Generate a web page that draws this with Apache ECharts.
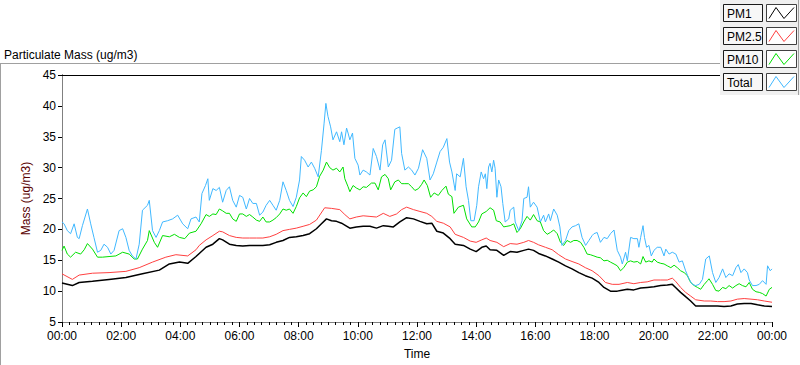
<!DOCTYPE html>
<html><head><meta charset="utf-8">
<script src="https://cdn.jsdelivr.net/npm/echarts@6/dist/echarts.min.js"></script>
<style>html,body{margin:0;padding:0;background:#fff}#c{width:800px;height:365px}</style>
</head><body><div id="c"></div>
<script>
const seriesNames = ['PM1', 'PM2.5', 'PM10', 'Total'];
const seriesColors = ['#000000', '#ff4040', '#00e000', '#40b8ff'];
const xTickLabels = ['00:00','02:00','04:00','06:00','08:00','10:00','12:00','14:00','16:00','18:00','20:00','22:00','00:00'];
const chartTitle = 'Particulate Mass (ug/m3)';
const yName = 'Mass (ug/m3)';
const xName = 'Time';

// [hour of day, ug/m3]
const pm1 = [[0,11.3],[0.35,10.9],[0.58,11.4],[1.03,11.6],[1.59,11.9],[2.16,12.2],[2.72,12.8],[3.29,13.4],[3.63,14.4],[3.97,14.7],[4.25,14.5],[4.53,15.6],[4.64,16.1],[4.87,17.1],[5.1,17.6],[5.32,18.5],[5.43,18.3],[5.66,17.6],[5.89,17.4],[6.11,17.3],[6.34,17.4],[6.57,17.4],[6.79,17.4],[7.02,17.5],[7.24,17.9],[7.47,18.2],[7.69,18.7],[7.92,18.8],[8.15,19.0],[8.37,19.3],[8.6,20.1],[8.77,20.9],[8.94,21.7],[9.11,21.4],[9.28,21.3],[9.45,21.0],[9.56,20.7],[9.73,20.2],[9.95,20.4],[10.18,20.5],[10.41,20.5],[10.63,20.2],[10.86,20.6],[11.03,20.5],[11.2,20.4],[11.42,21.2],[11.65,21.9],[11.88,21.7],[12.1,21.3],[12.33,20.9],[12.5,21.0],[12.67,19.7],[12.89,19.4],[13.12,18.5],[13.29,17.6],[13.57,17.4],[13.8,16.8],[14.0,16.4],[14.19,17.1],[14.34,17.3],[14.47,16.7],[14.7,16.6],[14.93,15.8],[15.15,16.4],[15.38,16.3],[15.61,16.6],[15.77,16.8],[15.94,16.6],[16.11,16.1],[16.34,15.7],[16.57,15.2],[16.79,14.7],[17.02,14.1],[17.24,13.6],[17.47,13.0],[17.69,12.5],[17.92,12.1],[18.15,11.4],[18.32,10.6],[18.54,10.0],[18.77,10.0],[18.88,10.1],[19.11,10.3],[19.33,10.2],[19.56,10.5],[19.78,10.6],[20.01,10.7],[20.24,10.9],[20.46,11.0],[20.63,11.1],[20.74,10.6],[20.91,9.8],[21.08,9.1],[21.25,8.4],[21.42,7.6],[21.71,7.6],[21.93,7.6],[22.16,7.6],[22.38,7.5],[22.61,7.6],[22.83,7.9],[23.06,8.0],[23.29,8.0],[23.51,7.8],[23.74,7.6],[24,7.5]];

const pm25 = [[0,12.8],[0.35,11.9],[0.58,12.6],[1.03,12.9],[1.59,13.0],[2.16,13.2],[2.61,13.8],[3.06,14.7],[3.51,15.5],[3.85,15.9],[4.25,15.7],[4.53,16.7],[4.64,17.4],[4.87,18.3],[5.1,19.0],[5.32,19.7],[5.43,19.6],[5.66,19.0],[5.89,18.7],[6.11,18.6],[6.34,18.6],[6.57,18.6],[6.79,18.6],[7.02,18.8],[7.24,19.2],[7.47,19.8],[7.69,20.0],[7.92,20.2],[8.15,20.5],[8.37,20.8],[8.6,21.5],[8.88,23.5],[9.11,23.4],[9.39,23.2],[9.56,22.4],[9.73,21.7],[9.95,22.0],[10.18,22.2],[10.41,22.1],[10.63,22.0],[10.86,22.6],[11.08,22.1],[11.31,22.5],[11.48,23.2],[11.65,23.6],[11.88,23.2],[12.1,22.9],[12.33,22.6],[12.5,22.1],[12.67,21.3],[12.89,21.0],[13.12,20.4],[13.29,19.2],[13.57,18.7],[13.8,18.1],[14.0,17.9],[14.19,18.3],[14.34,18.6],[14.47,18.2],[14.7,17.9],[14.93,17.2],[15.15,17.7],[15.38,17.6],[15.61,17.9],[15.77,18.2],[15.94,17.9],[16.11,17.5],[16.34,17.1],[16.57,16.7],[16.79,15.9],[17.02,15.2],[17.24,14.8],[17.47,14.4],[17.69,13.8],[17.92,13.3],[18.15,12.5],[18.37,11.4],[18.6,11.1],[18.83,11.1],[19.11,11.4],[19.33,11.2],[19.56,11.4],[19.78,11.5],[20.01,11.8],[20.24,11.8],[20.46,11.8],[20.63,12.1],[20.74,11.6],[20.91,10.6],[21.08,9.8],[21.25,9.2],[21.42,8.6],[21.71,8.4],[21.93,8.4],[22.16,8.3],[22.38,8.3],[22.61,8.4],[22.83,8.7],[23.06,8.8],[23.29,8.7],[23.51,8.6],[23.74,8.4],[24,8.2]];

const pm10 = [[0,16.6],[0.07,17.3],[0.18,16.0],[0.29,15.5],[0.46,16.3],[0.63,16.0],[0.75,16.7],[0.86,17.7],[1.03,16.8],[1.2,15.5],[1.37,15.5],[1.59,15.6],[1.82,15.7],[2.05,16.3],[2.27,16.0],[2.44,15.2],[2.55,15.2],[2.72,16.8],[2.89,18.2],[2.95,19.8],[3.12,17.9],[3.23,17.1],[3.4,19.0],[3.63,18.8],[3.8,19.2],[3.97,18.7],[4.15,18.5],[4.31,19.4],[4.53,19.7],[4.7,20.9],[4.87,22.4],[4.98,22.1],[5.1,22.5],[5.21,22.4],[5.32,23.3],[5.43,23.0],[5.55,22.6],[5.66,22.6],[5.77,21.7],[5.89,21.3],[6.0,22.5],[6.11,22.5],[6.23,22.1],[6.34,22.4],[6.45,22.0],[6.57,21.5],[6.68,21.3],[6.79,22.0],[6.9,21.2],[7.02,21.2],[7.13,21.5],[7.24,21.9],[7.36,22.5],[7.47,23.3],[7.58,23.1],[7.69,23.3],[7.81,22.6],[7.92,23.7],[8.03,25.1],[8.15,25.9],[8.26,25.3],[8.37,26.2],[8.49,26.4],[8.6,26.9],[8.71,28.6],[8.83,29.6],[8.94,30.9],[9.05,30.0],[9.16,29.6],[9.28,29.9],[9.39,29.3],[9.5,30.1],[9.56,28.2],[9.67,26.9],[9.73,26.1],[9.84,27.1],[9.95,26.7],[10.07,26.4],[10.18,26.9],[10.29,26.8],[10.46,27.5],[10.58,27.5],[10.69,26.4],[10.8,28.5],[10.92,28.9],[11.03,28.2],[11.11,26.4],[11.25,27.7],[11.37,28.0],[11.48,27.4],[11.59,27.4],[11.71,27.4],[11.82,26.9],[11.93,26.3],[12.05,26.6],[12.16,27.3],[12.24,28.0],[12.35,27.1],[12.46,25.2],[12.58,25.9],[12.72,25.5],[12.84,26.3],[12.98,27.0],[13.06,25.7],[13.18,25.3],[13.25,22.6],[13.4,23.6],[13.57,23.9],[13.68,21.7],[13.85,20.4],[13.97,20.4],[14.08,21.2],[14.19,22.5],[14.34,22.9],[14.47,23.5],[14.59,23.1],[14.68,21.4],[14.81,21.2],[14.93,20.4],[15.04,20.5],[15.15,20.6],[15.27,20.9],[15.38,19.5],[15.49,20.1],[15.61,21.2],[15.72,22.1],[15.83,21.5],[15.94,22.4],[16.06,21.4],[16.17,21.2],[16.28,19.8],[16.4,19.2],[16.51,19.5],[16.62,19.9],[16.74,19.3],[16.85,17.9],[16.96,17.4],[17.07,18.2],[17.19,17.9],[17.3,18.2],[17.41,18.2],[17.53,17.9],[17.64,17.1],[17.75,16.0],[17.86,15.9],[17.98,15.7],[18.09,15.5],[18.2,15.4],[18.32,14.9],[18.43,15.0],[18.54,14.7],[18.66,14.4],[18.77,14.1],[18.88,13.3],[18.99,13.8],[19.11,14.7],[19.22,14.9],[19.33,14.7],[19.45,14.8],[19.56,14.4],[19.64,15.6],[19.73,14.7],[19.84,14.9],[19.95,14.7],[20.01,15.2],[20.12,14.7],[20.24,14.5],[20.35,14.4],[20.46,14.1],[20.58,13.8],[20.69,14.2],[20.8,13.8],[20.91,13.3],[21.03,13.0],[21.14,12.5],[21.25,11.4],[21.37,10.9],[21.48,10.6],[21.59,10.3],[21.71,11.1],[21.82,11.7],[21.87,12.0],[21.99,11.1],[22.1,10.1],[22.21,10.0],[22.33,10.6],[22.44,10.4],[22.55,10.9],[22.67,10.5],[22.78,10.9],[22.89,11.2],[23.0,10.9],[23.12,10.7],[23.23,11.4],[23.34,10.3],[23.46,9.9],[23.57,9.8],[23.68,9.6],[23.8,9.2],[23.91,10.3],[24,10.6]];

const total = [[0,21.2],[0.07,20.9],[0.18,19.8],[0.29,19.3],[0.41,20.9],[0.52,18.7],[0.58,18.5],[0.69,20.6],[0.86,23.3],[0.97,20.9],[1.08,18.7],[1.2,16.3],[1.31,16.6],[1.42,17.6],[1.54,17.1],[1.65,16.0],[1.76,16.6],[1.93,19.8],[2.05,20.1],[2.16,18.7],[2.27,16.6],[2.38,15.7],[2.5,15.2],[2.61,17.6],[2.72,23.1],[2.89,23.9],[2.95,24.7],[3.06,19.8],[3.18,18.7],[3.29,19.8],[3.4,21.2],[3.57,21.4],[3.74,21.7],[3.91,22.3],[4.08,20.9],[4.25,20.1],[4.36,21.7],[4.53,22.0],[4.64,21.2],[4.73,25.8],[4.85,27.1],[4.93,28.2],[4.98,24.7],[5.1,26.6],[5.21,26.3],[5.32,26.8],[5.43,24.4],[5.55,26.3],[5.66,26.9],[5.77,24.7],[5.89,23.6],[6.0,25.5],[6.11,25.2],[6.23,23.3],[6.34,25.0],[6.45,24.2],[6.57,24.2],[6.68,22.3],[6.79,22.8],[6.9,23.9],[7.02,24.7],[7.13,23.9],[7.24,23.1],[7.36,24.7],[7.47,27.7],[7.58,26.3],[7.69,24.7],[7.81,23.7],[7.92,25.2],[8.03,28.0],[8.09,31.8],[8.2,31.2],[8.32,30.1],[8.43,30.9],[8.54,29.9],[8.66,28.5],[8.77,32.8],[8.86,37.2],[8.92,40.4],[8.99,38.3],[9.08,36.6],[9.16,34.5],[9.28,35.8],[9.39,34.2],[9.45,35.8],[9.53,33.7],[9.62,36.4],[9.67,35.6],[9.73,34.5],[9.82,35.6],[9.9,31.5],[10.01,30.4],[10.07,28.8],[10.18,29.6],[10.29,29.3],[10.41,28.8],[10.52,33.1],[10.63,31.8],[10.75,29.6],[10.84,33.7],[10.92,34.5],[11.03,30.1],[11.14,31.2],[11.25,36.2],[11.33,36.4],[11.42,36.6],[11.48,32.3],[11.59,29.6],[11.71,30.1],[11.82,29.6],[11.93,28.8],[12.05,29.9],[12.19,32.9],[12.33,31.5],[12.44,28.0],[12.55,29.0],[12.67,30.9],[12.78,32.6],[12.89,33.3],[13.01,34.7],[13.1,30.9],[13.18,29.3],[13.29,26.3],[13.34,29.0],[13.46,28.5],[13.57,31.5],[13.66,26.9],[13.74,24.7],[13.82,21.4],[13.93,21.4],[14.02,23.9],[14.08,26.9],[14.17,29.3],[14.25,28.2],[14.31,29.0],[14.36,26.6],[14.42,30.1],[14.47,30.7],[14.53,29.3],[14.59,31.2],[14.64,29.9],[14.7,25.2],[14.76,28.0],[14.84,26.9],[14.9,24.2],[14.98,21.2],[15.1,21.7],[15.15,23.1],[15.27,23.6],[15.32,21.2],[15.44,19.8],[15.55,21.4],[15.61,25.0],[15.72,25.2],[15.77,26.9],[15.83,23.6],[15.94,24.4],[16.06,23.6],[16.17,21.2],[16.28,22.3],[16.34,21.2],[16.45,22.5],[16.51,21.4],[16.62,23.3],[16.74,22.3],[16.83,20.4],[16.9,17.4],[17.02,18.2],[17.13,19.8],[17.24,20.4],[17.36,20.6],[17.47,20.9],[17.58,18.7],[17.7,17.4],[17.81,18.2],[17.92,19.0],[17.98,19.3],[18.09,19.5],[18.2,17.9],[18.32,18.7],[18.43,18.5],[18.54,19.3],[18.66,19.9],[18.77,16.6],[18.88,15.5],[18.94,14.4],[19.05,16.3],[19.11,14.9],[19.22,18.7],[19.33,18.5],[19.45,18.5],[19.5,17.1],[19.56,18.7],[19.64,20.6],[19.69,18.7],[19.76,17.1],[19.84,17.4],[19.92,15.7],[20.01,16.6],[20.12,17.1],[20.24,17.1],[20.35,15.7],[20.41,16.8],[20.52,16.0],[20.63,16.3],[20.75,16.0],[20.86,14.7],[20.97,14.9],[21.08,13.3],[21.2,11.9],[21.31,11.1],[21.42,10.9],[21.54,11.1],[21.65,11.9],[21.76,15.2],[21.88,15.7],[21.99,13.0],[22.1,11.4],[22.21,12.2],[22.33,13.6],[22.44,12.2],[22.55,12.8],[22.67,12.5],[22.78,13.8],[22.86,14.3],[22.95,13.0],[23.06,13.6],[23.17,13.0],[23.23,11.8],[23.34,10.9],[23.46,10.9],[23.57,11.1],[23.68,11.7],[23.8,11.1],[23.85,14.1],[23.94,13.3],[24,13.6]];

const seriesData = [pm1, pm25, pm10, total];
const FONT = 'Liberation Sans';

const chart = echarts.init(document.getElementById('c'), null, { renderer: 'svg' });

// legend panel (drawn as graphics, LabVIEW-style)
const legendGraphics = [];
legendGraphics.push({ type: 'rect', shape: { x: 720, y: 0, width: 80, height: 95 }, style: { fill: '#f0f0f0', stroke: null }, z: 100 });
legendGraphics.push({ type: 'line', shape: { x1: 798.5, y1: 0, x2: 798.5, y2: 95 }, style: { stroke: '#a0a0a0', lineWidth: 1 }, z: 101 });
seriesNames.forEach((name, i) => {
  const y0 = 4.5 + i * 23;
  legendGraphics.push({ type: 'rect', shape: { x: 723.5, y: y0, width: 39, height: 17 }, style: { fill: '#f7f7f7', stroke: '#1a1a1a', lineWidth: 1 }, z: 101 });
  legendGraphics.push({ type: 'text', x: 727, y: y0 + 9, style: { text: name, fill: '#000', font: '12px "' + FONT + '"', verticalAlign: 'middle' }, z: 102 });
  legendGraphics.push({ type: 'rect', shape: { x: 766.5, y: y0, width: 30, height: 17 }, style: { fill: '#ffffff', stroke: '#404040', lineWidth: 1 }, z: 101 });
  legendGraphics.push({ type: 'polyline', shape: { points: [[769, y0 + 14], [776, y0 + 3], [784, y0 + 14], [794, y0 + 3]] }, style: { stroke: seriesColors[i], lineWidth: 1, fill: null }, z: 102 });
});

const option = {
  animation: false,
  backgroundColor: '#ffffff',
  textStyle: { fontFamily: FONT },
  title: { text: chartTitle, left: 4, top: 49, padding: 0, textStyle: { fontSize: 12, fontWeight: 'normal', color: '#000', fontFamily: FONT } },
  grid: { left: 62, right: 28, top: 75, bottom: 43, containLabel: false },
  xAxis: [{
    type: 'value', min: 0, max: 24, interval: 2, position: 'bottom',
    axisLine: { show: true, lineStyle: { color: '#808080', width: 1 } },
    axisTick: { show: true, length: 5, lineStyle: { color: '#000' } },
    minorTick: { show: true, splitNumber: 8, length: 3, lineStyle: { color: '#000', width: 1 } },
    splitLine: { show: false }, minorSplitLine: { show: false },
    axisLabel: { fontSize: 12, color: '#000', margin: 8, fontFamily: FONT, formatter: v => xTickLabels[Math.round(v / 2)] },
    name: xName, nameLocation: 'middle', nameGap: 26, nameTextStyle: { fontSize: 12, color: '#000', fontFamily: FONT }
  }, {
    type: 'value', min: 0, max: 24, position: 'top',
    axisLine: { show: true, lineStyle: { color: '#000', width: 1 } },
    axisTick: { show: false }, axisLabel: { show: false }, splitLine: { show: false }
  }],
  yAxis: [{
    type: 'value', min: 5, max: 45, interval: 5,
    axisLine: { show: true, lineStyle: { color: '#000', width: 1 } },
    axisTick: { show: true, length: 4, lineStyle: { color: '#000' } },
    splitLine: { show: false },
    axisLabel: { fontSize: 12, color: '#000', margin: 6, fontFamily: FONT },
    name: yName, nameLocation: 'middle', nameGap: 24, nameTextStyle: { fontSize: 12, color: '#5a0000', fontFamily: FONT }
  }, {
    type: 'value', min: 5, max: 45, position: 'right',
    axisLine: { show: true, lineStyle: { color: '#808080', width: 1 } },
    axisTick: { show: false }, axisLabel: { show: false }, splitLine: { show: false }
  }],
  series: seriesNames.map((name, i) => ({
    name, type: 'line', data: seriesData[i], xAxisIndex: 0, yAxisIndex: 0,
    showSymbol: false, symbol: 'none', silent: true,
    lineStyle: { color: seriesColors[i], width: i === 0 ? 1.5 : 1 },
    itemStyle: { color: seriesColors[i] }
  })),
  graphic: [
    { type: 'line', shape: { x1: 0, y1: 63.5, x2: 720, y2: 63.5 }, style: { stroke: '#a0a0a0', lineWidth: 1 }, z: 50 },
    { type: 'line', shape: { x1: 0.5, y1: 63, x2: 0.5, y2: 365 }, style: { stroke: '#a0a0a0', lineWidth: 1 }, z: 50 },
    ...legendGraphics
  ]
};
chart.setOption(option);
</script>
</body></html>
